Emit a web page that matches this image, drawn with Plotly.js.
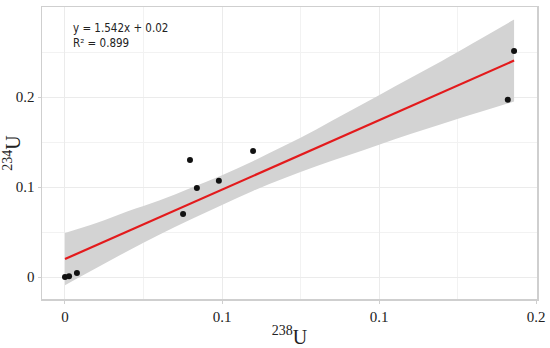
<!DOCTYPE html>
<html>
<head>
<meta charset="utf-8">
<script src="https://cdn.plot.ly/plotly-3.0.1.min.js"></script>
<style>html,body{margin:0;padding:0;background:#fff;}#chart{width:550px;height:348px;}
.annotation-text{font-stretch:condensed;}</style>
</head>
<body>
<div id="chart"></div>
<script>
// Data points (238U vs 234U)
const u238 = [0, 0.0013, 0.0038, 0.0376, 0.0398, 0.042, 0.049, 0.0599, 0.141, 0.143];
const u234 = [0, 0.001, 0.0044, 0.070, 0.130, 0.099, 0.107, 0.140, 0.197, 0.251];
// Fitted line and confidence band
const fitX = [0, 0.143];
const fitY = [0.020, 0.2405];
const bandX = [0, 0.01, 0.02, 0.03, 0.04, 0.05, 0.06, 0.07, 0.08, 0.09, 0.10, 0.11, 0.12, 0.13, 0.143];
const bandUpper = [0.049, 0.060, 0.073, 0.085, 0.099, 0.113, 0.129, 0.146, 0.164, 0.183, 0.202, 0.221, 0.240, 0.260, 0.286];
const bandLower = [-0.009, 0.010, 0.029, 0.047, 0.064, 0.080, 0.096, 0.110, 0.123, 0.135, 0.147, 0.159, 0.170, 0.181, 0.195];
const xTickVals = [0, 0.05, 0.1, 0.15];
const xTickText = ["0", "0.1", "0.1", "0.2"];
const yTickVals = [0, 0.1, 0.2];
const yTickText = ["0", "0.1", "0.2"];
const eqText = "y = 1.542x + 0.02<br>R² = 0.899";

const traces = [
  {x: bandX, y: bandLower, mode: 'lines', line: {width: 0, shape: 'spline'}, hoverinfo: 'skip', showlegend: false},
  {x: bandX, y: bandUpper, mode: 'lines', line: {width: 0, shape: 'spline'}, fill: 'tonexty', fillcolor: '#d3d3d3', hoverinfo: 'skip', showlegend: false},
  {x: fitX, y: fitY, mode: 'lines', line: {color: '#e31a1c', width: 2.2}, showlegend: false},
  {x: u238, y: u234, mode: 'markers', marker: {color: '#111', size: 6}, showlegend: false}
];

const axisCommon = {
  showline: true, linecolor: '#cfcfcf', linewidth: 1.5, mirror: true,
  gridcolor: '#ebebeb', gridwidth: 1, zeroline: false,
  ticks: 'outside', ticklen: 3, tickcolor: '#cfcfcf',
  tickfont: {family: 'Liberation Serif, DejaVu Serif, serif', size: 15, color: '#222'}
};

const layout = {
  width: 550, height: 348,
  margin: {l: 42, r: 13, t: 7, b: 49},
  paper_bgcolor: '#fff', plot_bgcolor: '#fff',
  xaxis: Object.assign({}, axisCommon, {
    range: [-0.00732, 0.1503], tickmode: 'array', tickvals: xTickVals, ticktext: xTickText,
    minor: {tickmode: 'array', tickvals: [0.025, 0.075, 0.125], showgrid: true, gridcolor: '#f2f2f2', ticks: ''},
    title: {text: '<sup>238</sup>U', font: {family: 'Liberation Serif, DejaVu Serif, serif', size: 20, color: '#222'}, standoff: 6}
  }),
  yaxis: Object.assign({}, axisCommon, {
    range: [-0.0244, 0.3], tickmode: 'array', tickvals: yTickVals, ticktext: yTickText,
    minor: {tickmode: 'array', tickvals: [0.05, 0.15, 0.25], showgrid: true, gridcolor: '#f2f2f2', ticks: ''},
    title: {text: '<sup>234</sup>U', font: {family: 'Liberation Serif, DejaVu Serif, serif', size: 20, color: '#222'}, standoff: 4}
  }),
  annotations: [{
    xref: 'paper', yref: 'paper', x: 0.058, y: 0.96, xanchor: 'left', yanchor: 'top',
    text: eqText, showarrow: false, align: 'left',
    font: {family: 'DejaVu Sans Condensed, Liberation Sans Narrow, DejaVu Sans, sans-serif', size: 11.5, color: '#222'}
  }]
};

Plotly.newPlot('chart', traces, layout, {displayModeBar: false, staticPlot: true});
</script>
</body>
</html>
